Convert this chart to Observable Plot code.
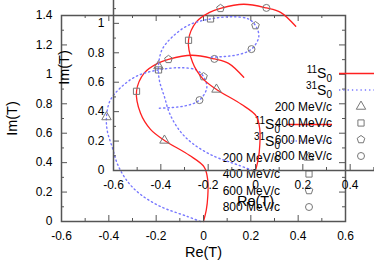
<!DOCTYPE html>
<html><head><meta charset="utf-8">
<script src="https://cdn.jsdelivr.net/npm/d3@7"></script>
<script src="https://cdn.jsdelivr.net/npm/@observablehq/plot@0.6"></script>
<style>
body{margin:0;background:#fff;}
#wrap{position:relative;width:374px;height:262px;overflow:hidden;background:#fff;}
.copy{position:absolute;width:374px;height:262px;}
.copy svg{max-width:none;}
</style></head><body>
<div id="wrap"></div>
<script>
// ---- data ----
const momenta = ["200 MeV/c", "400 MeV/c", "600 MeV/c", "800 MeV/c"];
const waves = ["11S0", "31S0"];
// 11S0 partial-wave Argand curve
const re11 = [0, 0.012, 0.018, 0.018, 0.003, -0.06, -0.165, -0.224, -0.266, -0.283, -0.25, -0.194, -0.148, -0.05, 0.046, 0.106, 0.17];
const im11 = [0, 0.08, 0.17, 0.28, 0.37, 0.45, 0.551, 0.626, 0.735, 0.885, 1.01, 1.075, 1.102, 1.13, 1.105, 1.075, 0.98];
// 31S0 partial-wave Argand curve
const re31 = [-0.013, -0.068, -0.182, -0.266, -0.321, -0.363, -0.384, -0.406, -0.41, -0.395, -0.35, -0.28, -0.19, -0.10, -0.03, 0.0, 0.014, -0.017, -0.08, -0.19];
const im31 = [0, 0.034, 0.102, 0.184, 0.272, 0.388, 0.497, 0.612, 0.71, 0.82, 0.91, 0.99, 1.03, 1.045, 1.03, 0.985, 0.91, 0.825, 0.785, 0.77];
// momentum markers on each curve (200, 400, 600, 800 MeV/c)
const mark11Re = [-0.165, -0.283, -0.148, 0.046];
const mark11Im = [0.551, 0.885, 1.102, 1.105];
const mark31Re = [-0.41, -0.19, 0.0, -0.017];
const mark31Im = [0.71, 1.03, 0.985, 0.825];
// axis ticks
const xTicks = [-0.6, -0.4, -0.2, 0, 0.2, 0.4, 0.6];
const yTicks = [0, 0.2, 0.4, 0.6, 0.8, 1, 1.2, 1.4];
const xMinor = [-0.5, -0.3, -0.1, 0.1, 0.3, 0.5];
const yMinor = [0.1, 0.3, 0.5, 0.7, 0.9, 1.1, 1.3];

// ---- styles ----
const RED = "#ff2020", BLUE = "#7878ff", GRAY = "#777", AX = "#555";
const FONT = "'Liberation Sans', Arial, sans-serif";
const W = 374, H = 262, mL = 61, mR = 29, mT = 15, mB = 41;
const pw = W - mL - mR, ph = H - mT - mB;

const pentagon = {
  draw(ctx, size) {
    const r = Math.sqrt(size / 2.3776);
    for (let k = 0; k < 5; k++) {
      const a = -Math.PI / 2 + k * 2 * Math.PI / 5;
      const px = r * Math.cos(a), py = r * Math.sin(a);
      if (k) ctx.lineTo(px, py); else ctx.moveTo(px, py);
    }
    ctx.closePath();
  }
};
const symbols = ["triangle", "square", pentagon, "circle"];
const d3symbols = [d3.symbolTriangle, d3.symbolSquare, pentagon, d3.symbolCircle];

const curve11 = re11.map((re, i) => ({re, im: im11[i]}));
const curve31 = re31.map((re, i) => ({re, im: im31[i]}));
const markers = momenta.flatMap((m, i) => [
  {re: mark11Re[i], im: mark11Im[i], k: i},
  {re: mark31Re[i], im: mark31Im[i], k: i}
]);

function chart() {
  const svg = Plot.plot({
    width: W, height: H,
    marginLeft: mL, marginRight: mR, marginTop: mT, marginBottom: mB,
    style: {background: "transparent", fontFamily: FONT, fontSize: "12px", color: "#000", overflow: "visible"},
    x: {domain: [-0.6, 0.6]},
    y: {domain: [0, 1.4]},
    marks: [
      Plot.line(curve11, {x: "re", y: "im", stroke: RED, strokeWidth: 1.3, curve: "catmull-rom"}),
      Plot.line(curve31, {x: "re", y: "im", stroke: BLUE, strokeWidth: 1.4, strokeDasharray: "1.3 3", curve: "catmull-rom"}),
      ...symbols.map((s, i) => Plot.dot(markers.filter(d => d.k === i), {x: "re", y: "im", symbol: s, r: 3.5, stroke: GRAY, fill: "none", strokeWidth: 1})),
      Plot.tickX(xTicks, {stroke: AX, insetTop: ph - 6}),
      Plot.tickX(xTicks, {stroke: AX, insetBottom: ph - 6}),
      Plot.tickX(xMinor, {stroke: AX, insetTop: ph - 3}),
      Plot.tickX(xMinor, {stroke: AX, insetBottom: ph - 3}),
      Plot.tickY(yTicks, {stroke: AX, insetRight: pw - 6}),
      Plot.tickY(yTicks, {stroke: AX, insetLeft: pw - 6}),
      Plot.tickY(yMinor, {stroke: AX, insetRight: pw - 3}),
      Plot.tickY(yMinor, {stroke: AX, insetLeft: pw - 3}),
      Plot.frame({stroke: AX, strokeWidth: 1.5}),
      Plot.axisX(xTicks, {tickSize: 0, tickPadding: 10, tickFormat: d => String(d), label: null, fontSize: 12}),
      Plot.axisY(yTicks, {tickSize: 0, tickPadding: 9, tickFormat: d => String(d), label: null, fontSize: 12}),
      Plot.text(["Re(T)"], {frameAnchor: "bottom", dy: 31, lineAnchor: "middle", fontSize: 14.5}),
      Plot.text(["Im(T)"], {frameAnchor: "left", dx: -49, rotate: -90, textAnchor: "middle", lineAnchor: "middle", fontSize: 14.5})
    ]
  });
  // key (legend)
  const rowsY = [124.5, 141, 157.5, 174, 190.5, 207];
  const textX = 280, lineX1 = 287, lineX2 = 332, symX = 309;
  const g = d3.select(svg).append("g").attr("font-family", FONT).attr("fill", "#000");
  waves.forEach((w, i) => {
    const y = rowsY[i];
    const t = g.append("text").attr("x", textX).attr("y", y).attr("text-anchor", "end");
    t.append("tspan").attr("font-size", 10).attr("dy", "-0.7").text(w.slice(0, 2));
    t.append("tspan").attr("font-size", 14).attr("dy", "5.5").text("S");
    t.append("tspan").attr("font-size", 10).attr("dy", "3.5").text(w.slice(3));
    const ln = g.append("line").attr("x1", lineX1).attr("x2", lineX2).attr("y1", y).attr("y2", y)
      .attr("stroke", i === 0 ? RED : BLUE).attr("stroke-width", 1.5);
    if (i === 1) ln.attr("stroke-dasharray", "1.3 3");
  });
  momenta.forEach((m, i) => {
    const y = rowsY[i + 2];
    g.append("text").attr("x", textX).attr("y", y).attr("dy", "0.35em").attr("text-anchor", "end")
      .attr("font-size", 12).text(m);
    g.append("path").attr("transform", `translate(${symX},${y})`)
      .attr("d", d3.symbol(d3symbols[i], Math.PI * 3.5 * 3.5)())
      .attr("fill", "none").attr("stroke", GRAY).attr("stroke-width", 1);
  });
  return svg;
}

const wrap = document.getElementById("wrap");
const offsets = [[0, 0], [52, -51]];
offsets.forEach(([dx, dy]) => {
  const div = document.createElement("div");
  div.className = "copy";
  div.style.left = dx + "px";
  div.style.top = dy + "px";
  div.appendChild(chart());
  wrap.appendChild(div);
});
</script>
</body></html>
